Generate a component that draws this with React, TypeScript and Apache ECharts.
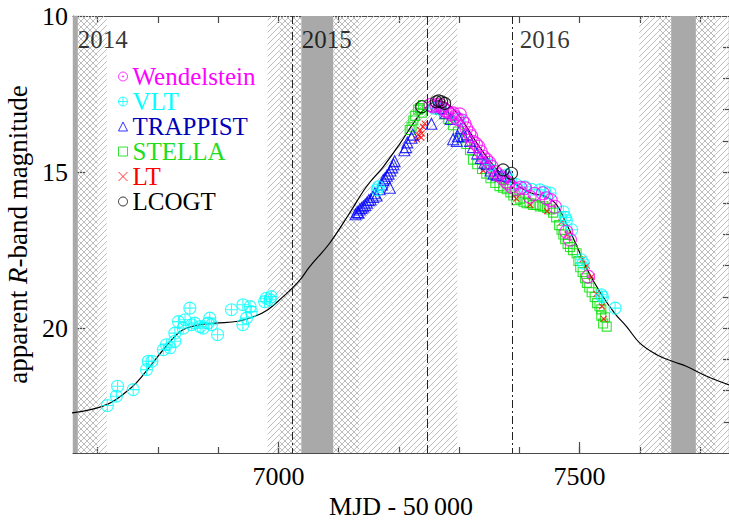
import React, { useEffect, useRef } from 'react';
import * as echarts from 'echarts';

const X_MIN = 6659;
const X_MAX = 7748;
const Y_MIN = 10;
const Y_MAX = 24;

const xMinorTicks = [6700, 6800, 6900, 7000, 7100, 7200, 7300, 7400, 7500, 7600, 7700];
const xMajorTicks = [7000, 7500];
const yLabelTicks = [10, 15, 20];
const yMinorTicks = [11, 12, 13, 14, 15, 16, 17, 18, 19, 20, 21, 22, 23];

const yearNames = ['2014', '2015', '2016'];
const yearAnchors = [[6666, 10.75], [7038, 10.75], [7400, 10.75]];
const yearBoundaries = [7023, 7388];
const perihelionDates = [7247];

const grayBands = [[6640, 6667], [7038, 7091], [7652, 7693]];
const crossBands = [[6667, 6700], [7002, 7038], [7091, 7134], [7632, 7652], [7693, 7726]];
const diagBands = [[6700, 6715], [6982, 7002], [7134, 7297], [7599, 7632], [7726, 7760]];

const modelCurve = [
  [6655, 22.72], [6715, 22.45], [6756, 21.9], [6778, 21.44], [6812, 20.62], [6839, 20.08],
  [6867, 19.9], [6895, 19.84], [6933, 19.78], [6961, 19.62], [6983, 19.4], [7005, 19.04],
  [7033, 18.52], [7052, 18.03], [7085, 17.28], [7118, 16.32], [7146, 15.47], [7174, 14.83],
  [7202, 14.08], [7224, 13.44], [7246, 12.91], [7265, 12.72], [7285, 12.88], [7307, 13.4],
  [7334, 14.2], [7362, 14.9], [7390, 15.35], [7417, 15.65], [7445, 15.8], [7462, 16.05],
  [7478, 16.65], [7495, 17.35], [7512, 18.1], [7534, 18.85], [7558, 19.52], [7578, 19.95],
  [7600, 20.48], [7628, 20.85], [7655, 21.07], [7677, 21.22], [7711, 21.54], [7750, 21.83],
];

const stellaData = [
  [7218, 13.65], [7221, 13.55], [7224, 13.35], [7227, 13.2], [7232, 13.0], [7235, 12.95],
  [7238, 13.1], [7240, 12.85], [7268, 13.0], [7275, 13.15], [7282, 13.3], [7290, 13.5],
  [7298, 13.7], [7305, 13.9], [7312, 14.1], [7318, 14.3], [7323, 14.6], [7330, 14.75],
  [7338, 14.9], [7345, 15.05], [7352, 15.2], [7360, 15.35], [7367, 15.45], [7373, 15.5],
  [7379, 15.55], [7385, 15.65], [7390, 15.75], [7395, 15.9], [7401, 15.85], [7407, 15.95],
  [7412, 16.0], [7417, 16.0], [7423, 16.05], [7428, 16.05], [7434, 16.1], [7440, 16.1],
  [7446, 16.15], [7451, 16.2], [7456, 16.3], [7461, 16.45], [7466, 16.7], [7470, 16.85],
  [7473, 17.0], [7476, 17.15], [7480, 17.3], [7484, 17.4], [7489, 17.5], [7495, 17.6],
  [7498, 17.85], [7501, 18.05], [7505, 18.2], [7509, 18.4], [7512, 18.55], [7516, 18.7],
  [7520, 18.85], [7525, 19.0], [7529, 19.2], [7533, 19.3], [7536, 19.6], [7539, 19.85],
  [7542, 19.65], [7536, 19.4], [7545, 19.95],
];

const ltData = [
  [7232, 13.81], [7235, 13.65], [7238, 13.76], [7240, 13.55], [7237, 13.9], [7230, 13.95],
  [7243, 13.45], [7340, 14.95], [7395, 15.85], [7418, 16.05], [7446, 16.25], [7470, 16.6],
  [7480, 17.0], [7505, 17.8], [7512, 18.0], [7520, 18.35], [7528, 18.9], [7537, 19.3], [7540, 19.7],
];

const trappistData = [
  [7128, 16.35], [7131, 16.28], [7133, 16.3], [7135, 16.2], [7138, 16.15], [7141, 16.1],
  [7144, 16.05], [7147, 15.98], [7150, 15.9], [7153, 15.88], [7157, 15.8], [7160, 15.68],
  [7163, 15.75], [7168, 15.55], [7172, 15.4], [7174, 15.25], [7177, 15.2], [7180, 15.12],
  [7183, 15.05], [7186, 14.95], [7189, 14.85], [7191, 14.75], [7193, 14.65], [7185, 15.5],
  [7209, 14.3], [7212, 14.2], [7214, 14.05], [7221, 13.9], [7223, 13.8], [7254, 13.45],
  [7262, 12.9], [7270, 12.95], [7278, 13.1], [7286, 13.3], [7290, 13.95], [7296, 14.0],
  [7298, 13.85], [7303, 13.6], [7307, 13.85], [7313, 13.8], [7318, 14.0], [7323, 14.2],
  [7330, 14.4], [7336, 14.55], [7342, 14.7], [7346, 14.75], [7352, 14.95], [7357, 15.05],
  [7363, 15.1], [7370, 15.1], [7377, 15.12], [7384, 15.15],
];

const vltData = [
  [6716, 22.48], [6731, 22.18], [6733, 21.86], [6759, 21.97], [6781, 21.33], [6784, 21.06],
  [6790, 21.06], [6809, 20.69], [6814, 20.53], [6820, 20.63], [6828, 20.42], [6828, 20.16],
  [6834, 19.79], [6842, 20.0], [6845, 19.73], [6853, 19.36], [6856, 19.89], [6861, 19.84],
  [6870, 19.95], [6875, 20.0], [6883, 19.84], [6886, 19.68], [6889, 19.89], [6899, 20.21],
  [6922, 19.41], [6941, 19.25], [6941, 19.89], [6947, 19.68], [6953, 19.31], [6955, 19.47],
  [6977, 19.15], [6980, 19.04], [6986, 19.09], [6988, 18.99],
  [7164, 15.57], [7166, 15.47],
  [7258, 12.95], [7270, 13.0], [7300, 13.3], [7351, 14.77], [7379, 15.09], [7395, 15.4],
  [7409, 15.47], [7420, 15.55], [7434, 15.57], [7442, 15.63], [7451, 15.67], [7473, 16.27],
  [7476, 16.45], [7478, 16.55], [7487, 16.85], [7503, 17.81], [7506, 17.92], [7536, 18.93],
  [7538, 19.0], [7559, 19.36],
];

const wendelsteinData = [
  [7252, 12.85], [7257, 12.9], [7262, 12.85], [7268, 12.85], [7273, 12.95], [7276, 13.02],
  [7280, 13.05], [7286, 13.15], [7290, 13.12], [7293, 13.23], [7297, 13.3], [7301, 13.15],
  [7305, 13.35], [7309, 13.45], [7312, 13.6], [7317, 13.75], [7320, 13.85], [7323, 14.03],
  [7328, 14.1], [7332, 14.19], [7336, 14.35], [7340, 14.51], [7345, 14.6], [7350, 14.7],
  [7354, 14.83], [7360, 15.0], [7366, 15.1], [7372, 15.2], [7378, 15.3], [7381, 15.36],
  [7387, 15.47], [7395, 15.55], [7402, 15.5], [7409, 15.52], [7417, 15.79], [7425, 15.7],
  [7439, 15.68], [7445, 15.84], [7452, 15.9], [7459, 16.11], [7478, 16.91], [7484, 17.17],
  [7514, 18.35],
];

const lcogtData = [
  [7238, 12.91], [7262, 12.75], [7266, 12.72], [7271, 12.75], [7276, 12.8], [7373, 14.93], [7387, 15.04],
];

const FONT = '"Liberation Serif", "Times New Roman", serif';
const SYM_CDOT = 'path://M10 0A10 10 0 1 1 -10 0A10 10 0 1 1 10 0ZM1.5 0A1.5 1.5 0 1 1 -1.5 0A1.5 1.5 0 1 1 1.5 0Z';
const SYM_CPLUS = 'path://M10 0A10 10 0 1 1 -10 0A10 10 0 1 1 10 0ZM-10 0L10 0M0 -10L0 10';
const SYM_X = 'path://M-10 -10L10 10M-10 10L10 -10';

const instruments = [
  { name: 'Wendelstein', data: wendelsteinData, symbol: SYM_CDOT, size: 13, color: '#ff00ff', text: '#ff00ff' },
  { name: 'VLT', data: vltData, symbol: SYM_CPLUS, size: 12, color: '#00ffff', text: '#00ffff' },
  { name: 'TRAPPIST', data: trappistData, symbol: 'triangle', size: 11, color: '#0000ff', text: '#0000b8' },
  { name: 'STELLA', data: stellaData, symbol: 'rect', size: 9, color: '#00e000', text: '#1fdc1f' },
  { name: 'LT', data: ltData, symbol: SYM_X, size: 6, color: '#ff0000', text: '#ff0000' },
  { name: 'LCOGT', data: lcogtData, symbol: 'circle', size: 12, color: '#000000', text: '#000000' },
];
const drawOrder = ['STELLA', 'LT', 'TRAPPIST', 'VLT', 'Wendelstein', 'LCOGT'];

function hatchLines(x0: number, y0: number, x1: number, y1: number, s: number, dir: number) {
  const out: any[] = [];
  const style = { stroke: '#bdbdbd', lineWidth: 1 };
  if (dir > 0) {
    for (let c = Math.ceil((x0 + y0) / s) * s; c <= x1 + y1; c += s) {
      const xs = Math.max(x0, c - y1);
      const xe = Math.min(x1, c - y0);
      if (xe > xs) out.push({ type: 'line', shape: { x1: xs, y1: c - xs, x2: xe, y2: c - xe }, style });
    }
  } else {
    for (let k = Math.ceil((y0 - x1) / s) * s; k <= y1 - x0; k += s) {
      const xs = Math.max(x0, y0 - k);
      const xe = Math.min(x1, y1 - k);
      if (xe > xs) out.push({ type: 'line', shape: { x1: xs, y1: xs + k, x2: xe, y2: xe + k }, style });
    }
  }
  return out;
}

export default function App() {
  const ref = useRef<HTMLDivElement>(null);
  useEffect(() => {
    if (!ref.current) return;
    const chart = echarts.init(ref.current, null, { renderer: 'svg' });

    const bandData = [
      ...grayBands.map((b) => [b[0], b[1], 0]),
      ...crossBands.map((b) => [b[0], b[1], 1]),
      ...diagBands.map((b) => [b[0], b[1], 2]),
    ];

    const byName: any = {};
    instruments.forEach((i) => (byName[i.name] = i));

    const scatterSeries = drawOrder.map((n) => {
      const ins = byName[n];
      return {
        name: ins.name,
        type: 'scatter',
        data: ins.data,
        symbol: ins.symbol,
        symbolSize: ins.size,
        symbolKeepAspect: true,
        itemStyle: { color: 'rgba(0,0,0,0)', borderColor: ins.color, borderWidth: 1.1 },
        z: 4,
        silent: true,
      };
    });

    const axisLineStyle = { color: '#4a4a4a', width: 1.2 };
    const plain = (v: number) => String(v);

    chart.setOption({
      animation: false,
      grid: { left: 73, top: 16, right: 0, bottom: 69, containLabel: false, outerBoundsMode: 'none' },
      xAxis: [
        {
          type: 'value', min: X_MIN, max: X_MAX, position: 'bottom',
          axisLine: { show: true, lineStyle: axisLineStyle },
          axisTick: { show: true, inside: true, length: 6, customValues: xMinorTicks, lineStyle: axisLineStyle },
          axisLabel: { show: true, customValues: xMajorTicks, formatter: plain, margin: 10, fontFamily: FONT, fontSize: 26, color: '#000' },
          splitLine: { show: false },
          name: 'MJD - 50\u2009000', nameLocation: 'middle', nameGap: 31,
          nameTextStyle: { fontFamily: FONT, fontSize: 26, color: '#000' },
        },
        {
          type: 'value', min: X_MIN, max: X_MAX, position: 'bottom',
          axisLine: { show: false },
          axisTick: { show: true, inside: true, length: 11, customValues: xMajorTicks, lineStyle: axisLineStyle },
          axisLabel: { show: false },
          splitLine: { show: false },
        },
        {
          type: 'value', min: X_MIN, max: X_MAX, position: 'top',
          axisLine: { show: true, lineStyle: axisLineStyle },
          axisTick: { show: true, inside: true, length: 7, customValues: xMinorTicks, lineStyle: axisLineStyle },
          axisLabel: { show: false },
          splitLine: { show: false },
        },
      ],
      yAxis: [
        {
          type: 'value', min: Y_MIN, max: Y_MAX, inverse: true, position: 'left',
          axisLine: { show: true, lineStyle: axisLineStyle },
          axisTick: { show: true, inside: true, length: 12, customValues: yLabelTicks, lineStyle: axisLineStyle },
          axisLabel: { show: true, customValues: yLabelTicks, formatter: plain, margin: 5, fontFamily: FONT, fontSize: 26, color: '#000' },
          splitLine: { show: false },
          name: '{n|apparent }{i|R}{n|-band magnitude}',
          nameLocation: 'middle', nameRotate: 90, nameGap: 41,
          nameTextStyle: {
            fontFamily: FONT, fontSize: 27, color: '#000',
            rich: {
              n: { fontFamily: FONT, fontSize: 27, color: '#000' },
              i: { fontFamily: FONT, fontSize: 27, color: '#000', fontStyle: 'italic' },
            },
          },
        },
        {
          type: 'value', min: Y_MIN, max: Y_MAX, inverse: true, position: 'right',
          axisLine: { show: true, lineStyle: axisLineStyle },
          axisTick: { show: true, inside: true, length: 6, customValues: yMinorTicks, lineStyle: axisLineStyle },
          axisLabel: { show: false },
          splitLine: { show: false },
        },
      ],
      legend: {
        orient: 'vertical', left: 113, top: 59, itemWidth: 9, itemHeight: 9, itemGap: 0,
        selectedMode: false,
        textStyle: { fontFamily: FONT, fontSize: 25, lineHeight: 24 },
        data: instruments.map((ins) => ({
          name: ins.name,
          icon: ins.symbol,
          textStyle: { color: ins.text, fontFamily: FONT, fontSize: 25, lineHeight: 24 },
          itemStyle: { color: 'rgba(0,0,0,0)', borderColor: ins.color, borderWidth: 1 },
        })),
      },
      series: [
        {
          type: 'custom',
          name: 'bands',
          silent: true,
          z: 1,
          data: bandData,
          renderItem: (params: any, api: any) => {
            const cs = params.coordSys;
            const a = api.coord([api.value(0), Y_MIN]);
            const b = api.coord([api.value(1), Y_MAX]);
            const kind = api.value(2);
            const x0 = Math.max(cs.x, Math.min(a[0], b[0]));
            const x1 = Math.min(cs.x + cs.width, Math.max(a[0], b[0]));
            const y0 = cs.y;
            const y1 = cs.y + cs.height;
            if (x1 <= x0) return { type: 'group', children: [] };
            if (kind === 0) {
              return { type: 'rect', shape: { x: x0, y: y0, width: x1 - x0, height: y1 - y0 }, style: { fill: '#a9a9a9' } };
            }
            const children = hatchLines(x0, y0, x1, y1, 6, 1);
            if (kind === 1) children.push(...hatchLines(x0, y0, x1, y1, 6, -1));
            return { type: 'group', children };
          },
        },
        {
          type: 'line',
          name: 'model',
          data: modelCurve,
          smooth: 0.4,
          showSymbol: false,
          lineStyle: { color: '#000', width: 1.2 },
          z: 3,
          silent: true,
          markLine: {
            silent: true,
            symbol: ['none', 'none'],
            label: { show: false },
            data: [
              ...yearBoundaries.map((v) => ({ xAxis: v, lineStyle: { color: '#222', width: 1, type: [8, 3, 2, 3] } })),
              ...perihelionDates.map((v) => ({ xAxis: v, lineStyle: { color: '#222', width: 1, type: [9, 4] } })),
            ],
          },
        },
        ...scatterSeries,
        {
          type: 'scatter',
          name: 'years',
          data: yearAnchors.map((p, i) => [p[0], p[1], yearNames[i]]),
          symbolSize: 1,
          itemStyle: { color: 'rgba(0,0,0,0)' },
          silent: true,
          z: 5,
          label: {
            show: true, position: 'right', distance: 0,
            formatter: (p: any) => p.value[2],
            fontFamily: FONT, fontSize: 25, color: '#000',
          },
        },
      ],
    });
    return () => chart.dispose();
  }, []);
  return <div ref={ref} style={{ position: 'absolute', left: 0, top: 0, width: 729, height: 522 }} />;
}
